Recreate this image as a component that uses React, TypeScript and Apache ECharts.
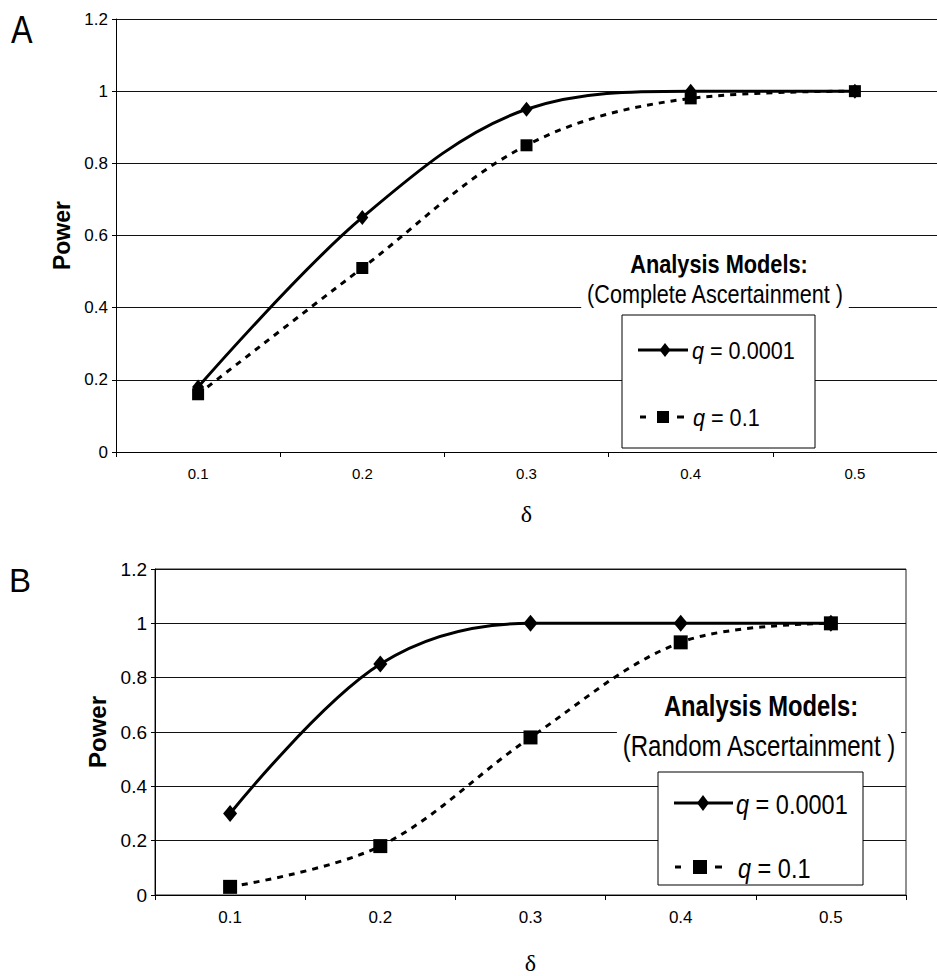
import React, { useEffect, useRef } from "react";
import * as echarts from "echarts";

const deltaLabels = ["0.1", "0.2", "0.3", "0.4", "0.5"];
const yTicks = [0, 0.2, 0.4, 0.6, 0.8, 1.0, 1.2];
const powerA_q0001 = [0.18, 0.65, 0.95, 1.0, 1.0];
const powerA_q01 = [0.16, 0.51, 0.85, 0.98, 1.0];
const powerB_q0001 = [0.3, 0.85, 1.0, 1.0, 1.0];
const powerB_q01 = [0.03, 0.18, 0.58, 0.93, 1.0];
const seriesNames = ["q = 0.0001", "q = 0.1"];

const SANS = '"Liberation Sans", Arial, Helvetica, sans-serif';
const SERIF = '"Liberation Serif", "DejaVu Serif", serif';

export default function App() {
  const ref = useRef<HTMLDivElement>(null);
  useEffect(() => {
    if (!ref.current) return;
    const chart = echarts.init(ref.current, undefined, { renderer: "svg" });

    const xAxisBase = (gridIndex: number, fontSize: number, nameGap: number) => ({
      type: "category" as const,
      gridIndex,
      data: deltaLabels,
      boundaryGap: true,
      name: "δ",
      nameLocation: "middle" as const,
      nameGap,
      nameTextStyle: { fontFamily: SERIF, fontSize: 24, color: "#000" },
      axisLine: { lineStyle: { color: "#000", width: 1 } },
      axisTick: { show: true, length: 5, alignWithLabel: false, lineStyle: { color: "#000" } },
      axisLabel: { fontFamily: SANS, fontSize, color: "#000", margin: 14 },
      splitLine: { show: false },
    });
    const yAxisBase = (gridIndex: number, fontSize: number, nameGap: number, nameSize: number) => ({
      type: "value" as const,
      gridIndex,
      min: yTicks[0],
      max: yTicks[yTicks.length - 1],
      interval: 0.2,
      name: "Power",
      nameLocation: "middle" as const,
      nameGap,
      nameTextStyle: { fontFamily: SANS, fontWeight: "bold" as const, fontSize: nameSize, color: "#000" },
      axisLine: { show: true, lineStyle: { color: "#000", width: 1 } },
      axisTick: { show: true, length: 4, lineStyle: { color: "#000" } },
      axisLabel: { fontFamily: SANS, fontSize, color: "#000", margin: 8 },
      splitLine: { show: true, lineStyle: { color: "#111", width: 1 } },
    });

    const solid = (xi: number, data: number[], size: number[]) => ({
      name: seriesNames[0],
      type: "line" as const,
      xAxisIndex: xi,
      yAxisIndex: xi,
      data,
      smooth: 0.35,
      symbol: "diamond",
      symbolSize: size,
      lineStyle: { color: "#000", width: 3 },
      itemStyle: { color: "#000" },
      z: 3,
    });
    const dashed = (xi: number, data: number[], size: number) => ({
      name: seriesNames[1],
      type: "line" as const,
      xAxisIndex: xi,
      yAxisIndex: xi,
      data,
      smooth: 0.35,
      symbol: "rect",
      symbolSize: size,
      lineStyle: { color: "#000", width: 3, type: [6, 6] },
      itemStyle: { color: "#000" },
      z: 2,
    });

    const italicRich = (size: number) => ({
      i: { fontFamily: SANS, fontStyle: "italic", fontSize: size, fill: "#000" },
      n: { fontFamily: SANS, fontSize: size, fill: "#000" },
    });

    const seg = (x1: number, x2: number, y: number) => ({
      type: "line", z: 101, shape: { x1, y1: y, x2, y2: y }, style: { stroke: "#000", lineWidth: 3 },
    });

    const legendGraphics = [
      // Panel letters
      { type: "text", x: 11, y: 11, z: 100, scaleX: 0.85, style: { text: "A", font: `38px ${SANS}`, fill: "#000" } },
      { type: "text", x: 9, y: 564, z: 100, style: { text: "B", font: `33px ${SANS}`, fill: "#000" } },
      // Legend A
      { type: "text", x: 719, y: 264, z: 100, scaleX: 0.87, style: { text: "Analysis Models:", font: `bold 25px ${SANS}`, fill: "#000", align: "center", verticalAlign: "middle" } },
      { type: "text", x: 715, y: 294, z: 100, scaleX: 0.865, style: { text: "(Complete Ascertainment )", font: `25px ${SANS}`, fill: "#000", align: "center", verticalAlign: "middle", backgroundColor: "#fff", padding: [3, 6, 5, 6] } },
      { type: "rect", z: 100, shape: { x: 622, y: 315, width: 193, height: 133 }, style: { fill: "#fff", stroke: "#000", lineWidth: 1 } },
      seg(638, 688, 350),
      { type: "polygon", z: 101, shape: { points: [[665, 343], [670.5, 350], [665, 357], [659.5, 350]] }, style: { fill: "#000" } },
      { type: "text", x: 692, y: 351, z: 101, scaleX: 0.9, style: { text: "{i|q}{n| = 0.0001}", rich: italicRich(24), verticalAlign: "middle" } },
      seg(640, 646, 417),
      seg(677, 684, 417),
      { type: "rect", z: 101, shape: { x: 657, y: 411, width: 12, height: 12 }, style: { fill: "#000" } },
      { type: "text", x: 693, y: 418, z: 101, scaleX: 0.9, style: { text: "{i|q}{n| = 0.1}", rich: italicRich(24), verticalAlign: "middle" } },
      // Legend B
      { type: "text", x: 761, y: 706, z: 100, scaleX: 0.82, style: { text: "Analysis Models:", font: `bold 29px ${SANS}`, fill: "#000", align: "center", verticalAlign: "middle" } },
      { type: "text", x: 759, y: 746, z: 100, scaleX: 0.83, style: { text: "(Random Ascertainment )", font: `29px ${SANS}`, fill: "#000", align: "center", verticalAlign: "middle", backgroundColor: "#fff", padding: [3, 6, 5, 6] } },
      { type: "rect", z: 100, shape: { x: 658, y: 772, width: 205, height: 113 }, style: { fill: "#fff", stroke: "#000", lineWidth: 1 } },
      seg(674, 733, 803),
      { type: "polygon", z: 101, shape: { points: [[703, 795], [709, 803], [703, 811], [697, 803]] }, style: { fill: "#000" } },
      { type: "text", x: 736, y: 804, z: 101, scaleX: 0.84, style: { text: "{i|q}{n| = 0.0001}", rich: italicRich(28), verticalAlign: "middle" } },
      seg(675, 681, 867),
      seg(715, 722, 867),
      { type: "rect", z: 101, shape: { x: 693, y: 860, width: 14, height: 14 }, style: { fill: "#000" } },
      { type: "text", x: 738, y: 868, z: 101, scaleX: 0.84, style: { text: "{i|q}{n| = 0.1}", rich: italicRich(28), verticalAlign: "middle" } },
    ];

    chart.setOption({
      animation: false,
      backgroundColor: "#fff",
      grid: [
        { left: 116, top: 19, width: 830, height: 433, show: false },
        { left: 155, top: 569, width: 751, height: 329, show: true, borderColor: "#222", borderWidth: 1, backgroundColor: "transparent" },
      ],
      xAxis: [xAxisBase(0, 15, 50), xAxisBase(1, 17, 56)],
      yAxis: [yAxisBase(0, 17, 42, 23), yAxisBase(1, 19, 46, 24)],
      series: [
        dashed(0, powerA_q01, 12),
        solid(0, powerA_q0001, [12, 15]),
        dashed(1, powerB_q01, 14),
        solid(1, powerB_q0001, [14, 17]),
      ],
      graphic: legendGraphics,
    });

    return () => chart.dispose();
  }, []);

  return (
    <div
      ref={ref}
      style={{ position: "absolute", left: 0, top: 0, width: 937, height: 976, overflow: "hidden", background: "#fff" }}
    />
  );
}
